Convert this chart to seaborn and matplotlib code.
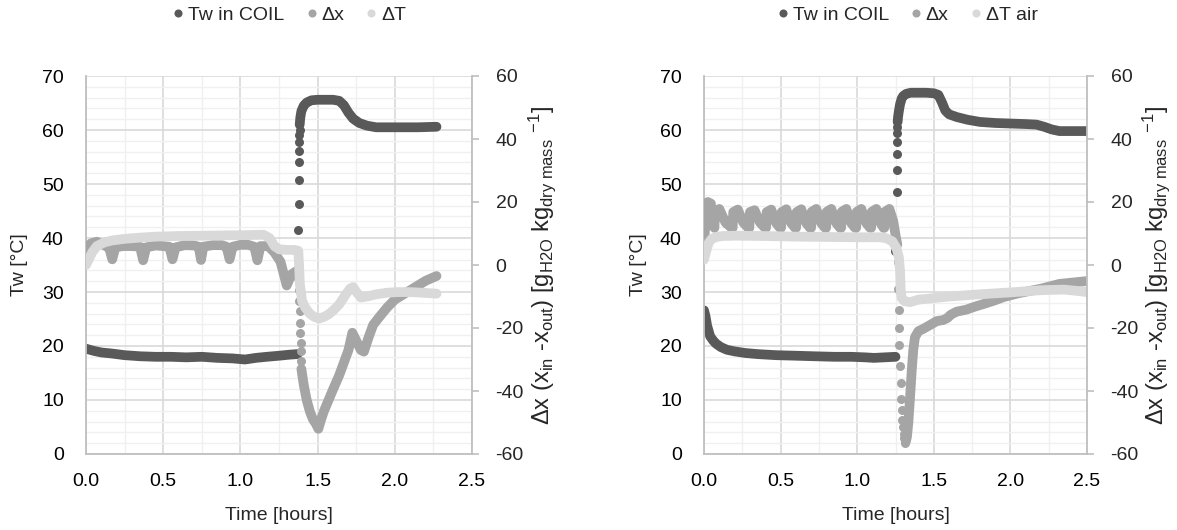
import matplotlib
matplotlib.use("Agg")
import matplotlib.pyplot as plt
import seaborn as sns
from matplotlib.ticker import MultipleLocator
from matplotlib.lines import Line2D

sns.set_theme(style="white")
plt.rcParams["font.family"] = ["Liberation Sans", "DejaVu Sans"]
plt.rcParams["mathtext.fontset"] = "custom"
plt.rcParams["mathtext.rm"] = "Liberation Sans"
plt.rcParams["mathtext.it"] = "Liberation Sans:italic"
plt.rcParams["axes.unicode_minus"] = False

# ---------------- colours ----------------
C_TW = "#595959"
C_DX = "#a5a5a5"
C_DT = "#d9d9d9"

# ================= left panel data =================
# water temperature in coil [°C] (left axis)
tw1_pre_t = [0.00, 0.05, 0.10, 0.17, 0.25, 0.35, 0.45, 0.55, 0.65, 0.75, 0.85,
             0.95, 1.03, 1.10, 1.17, 1.25, 1.32, 1.37]
tw1_pre_v = [19.5, 19.1, 18.8, 18.6, 18.3, 18.1, 18.0, 18.0, 17.9, 18.0, 17.8,
             17.7, 17.5, 17.8, 18.0, 18.2, 18.4, 18.5]
tw1_jump_t = [1.376, 1.377, 1.378, 1.379, 1.380, 1.381, 1.382, 1.383]
tw1_jump_v = [41.5, 46.3, 50.7, 54.0, 56.1, 57.8, 59.0, 60.0]
tw1_post_t = [1.384, 1.388, 1.395, 1.41, 1.43, 1.46, 1.50, 1.55, 1.60, 1.64, 1.67,
              1.70, 1.73, 1.77, 1.82, 1.88, 1.95, 2.05, 2.15, 2.27]
tw1_post_v = [61.0, 62.3, 63.5, 64.5, 65.1, 65.5, 65.6, 65.6, 65.6, 65.4, 64.6,
              63.2, 62.1, 61.3, 60.8, 60.5, 60.5, 60.5, 60.5, 60.6]

# moisture difference [g/kg] (right axis)
dx1_pre_t = [0.00, 0.03, 0.07, 0.12, 0.15, 0.17, 0.19, 0.24, 0.30, 0.35, 0.37, 0.39,
             0.45, 0.50, 0.54, 0.56, 0.58, 0.64, 0.70, 0.73, 0.745, 0.76, 0.82,
             0.88, 0.91, 0.93, 0.95, 1.00, 1.05, 1.09, 1.11, 1.13, 1.18, 1.22,
             1.26, 1.30, 1.33, 1.36, 1.375]
dx1_pre_v = [5.0, 6.8, 7.4, 6.2, 5.5, 1.8, 5.6, 6.0, 6.0, 5.8, 1.5, 5.6,
             6.2, 6.0, 5.8, 1.8, 5.6, 6.3, 6.2, 5.8, 1.6, 5.8, 6.3,
             6.3, 5.8, 1.8, 5.8, 6.4, 6.4, 5.8, 1.5, 6.0, 6.0, 4.0,
             1.0, -6.5, -3.0, -2.0, -4.0]
dx1_jump_t = [1.380, 1.382, 1.384, 1.386, 1.388, 1.390, 1.392, 1.394]
dx1_jump_v = [-8.0, -11.5, -14.6, -18.3, -21.5, -24.7, -27.4, -30.5]
dx1_post_t = [1.395, 1.41, 1.43, 1.45, 1.47, 1.49, 1.505, 1.52, 1.54, 1.57, 1.60,
              1.64, 1.67, 1.70, 1.725, 1.75, 1.78, 1.80, 1.83, 1.86, 1.90, 1.95,
              2.00, 2.05, 2.10, 2.15, 2.20, 2.27]
dx1_post_v = [-33.0, -38.0, -43.0, -46.5, -49.0, -50.5, -52.0, -49.5, -46.5, -43.0,
              -39.5, -35.0, -31.0, -27.0, -21.5, -24.0, -27.0, -27.5, -23.0, -19.0,
              -16.5, -13.5, -11.0, -9.5, -8.0, -6.5, -5.0, -3.5]

# air temperature difference [K] (right axis)
dt1_t = [0.00, 0.02, 0.04, 0.07, 0.12, 0.17, 0.25, 0.35, 0.45, 0.60, 0.75, 0.90,
         1.05, 1.15, 1.19, 1.22, 1.25, 1.30, 1.35, 1.375, 1.38, 1.385, 1.40, 1.42,
         1.45, 1.48, 1.51, 1.54, 1.57, 1.60, 1.64, 1.68, 1.71, 1.73, 1.75, 1.78,
         1.82, 1.88, 1.95, 2.02, 2.10, 2.18, 2.27]
dt1_v = [0.0, 2.0, 4.0, 6.0, 7.2, 7.8, 8.3, 8.7, 9.0, 9.2, 9.3, 9.4,
         9.5, 9.6, 8.5, 6.0, 5.0, 4.8, 4.8, 4.5, 0.0, -6.0, -11.5, -13.5,
         -15.5, -16.5, -17.0, -16.5, -15.7, -14.5, -12.5, -9.5, -7.5, -7.0, -8.5, -10.3,
         -10.0, -9.3, -8.8, -8.6, -8.6, -8.8, -9.1]

# ================= right panel data =================
tw2_pre_t = [0.00, 0.01, 0.02, 0.04, 0.06, 0.08, 0.11, 0.15, 0.20, 0.27, 0.35, 0.47,
             0.60, 0.72, 0.85, 0.96, 1.05, 1.11, 1.18, 1.25]
tw2_pre_v = [26.6, 25.5, 23.8, 21.8, 21.0, 20.4, 19.8, 19.3, 19.0, 18.7, 18.5, 18.3,
             18.2, 18.1, 18.0, 18.0, 17.9, 17.8, 17.9, 18.0]
tw2_jump_t = [1.245, 1.258, 1.259, 1.260, 1.261, 1.262, 1.263]
tw2_jump_v = [37.6, 48.6, 52.6, 55.5, 57.8, 59.4, 60.5]
tw2_post_t = [1.264, 1.267, 1.272, 1.28, 1.29, 1.30, 1.32, 1.35, 1.40, 1.45, 1.50,
              1.53, 1.555, 1.575, 1.60, 1.65, 1.72, 1.80, 1.90, 2.00, 2.10, 2.17,
              2.22, 2.27, 2.32, 2.40, 2.50]
tw2_post_v = [61.5, 62.5, 63.5, 64.8, 65.8, 66.3, 66.7, 66.9, 66.9, 66.9, 66.8,
              66.5, 65.0, 63.6, 62.9, 62.4, 61.9, 61.5, 61.3, 61.2, 61.1, 61.0,
              60.6, 60.1, 59.8, 59.8, 59.8]

dx2_pre_t = [0.000, 0.012, 0.025, 0.045, 0.060, 0.068,
             0.072, 0.100, 0.140, 0.180, 0.187,
             0.191, 0.221, 0.256, 0.289, 0.296,
             0.300, 0.330, 0.365, 0.398, 0.405,
             0.409, 0.439, 0.468, 0.496, 0.503,
             0.507, 0.537, 0.566, 0.594, 0.601,
             0.605, 0.635, 0.664, 0.692, 0.699,
             0.703, 0.733, 0.762, 0.790, 0.797,
             0.801, 0.831, 0.860, 0.888, 0.895,
             0.899, 0.929, 0.958, 0.986, 0.993,
             0.997, 1.027, 1.056, 1.084, 1.091,
             1.095, 1.125, 1.150, 1.172, 1.177,
             1.181, 1.210, 1.235, 1.252, 1.262]
dx2_pre_v = [6.5, 15.0, 20.0, 19.5, 13.0, 11.8,
             16.8, 17.8, 13.5, 11.8, 11.8,
             16.8, 17.6, 13.5, 11.8, 11.8,
             16.8, 17.4, 13.5, 11.8, 11.8,
             16.8, 17.6, 13.5, 11.8, 11.8,
             16.8, 17.7, 13.5, 11.8, 11.8,
             16.8, 17.7, 13.5, 11.8, 11.8,
             16.9, 17.8, 13.5, 11.8, 11.8,
             16.9, 17.8, 13.5, 11.8, 11.8,
             16.9, 17.8, 13.5, 11.8, 11.8,
             16.9, 17.8, 13.5, 11.8, 11.8,
             16.9, 17.8, 13.5, 11.8, 11.8,
             16.9, 17.8, 14.0, 9.0, 6.5]
dx2_jump_t = [1.265, 1.268, 1.272, 1.274, 1.276, 1.279, 1.283, 1.287, 1.291, 1.295,
              1.299, 1.303, 1.308, 1.313]
dx2_jump_v = [0.8, -7.5, -14.4, -20.0, -25.5, -32.1, -37.6, -42.4, -46.1, -49.2,
              -51.4, -53.5, -55.0, -56.6]
dx2_post_t = [1.318, 1.325, 1.334, 1.345, 1.356, 1.366, 1.377, 1.40, 1.43, 1.47, 1.52,
              1.56, 1.59, 1.61, 1.65, 1.71, 1.77, 1.83, 1.90, 1.955, 2.05, 2.15,
              2.20, 2.32, 2.42, 2.50]
dx2_post_v = [-56.0, -54.5, -50.0, -42.0, -33.5, -27.0, -22.9, -21.0, -20.3, -19.2,
              -17.8, -17.5, -16.8, -15.8, -14.8, -14.2, -13.2, -12.3, -11.2, -10.2,
              -9.0, -8.0, -7.5, -6.0, -5.5, -5.1]

dt2_t = [0.000, 0.015, 0.030, 0.050, 0.080, 0.12, 0.20, 0.40, 0.60, 0.80, 1.00,
         1.15, 1.19, 1.23, 1.255, 1.272, 1.280, 1.284, 1.290, 1.310, 1.345, 1.40,
         1.60, 1.80, 2.00, 2.20, 2.35, 2.45, 2.50]
dt2_v = [1.7, 4.5, 7.0, 8.3, 8.9, 9.2, 9.3, 9.2, 9.0, 8.9, 8.8,
         8.8, 8.5, 7.5, 5.5, 2.5, -2.0, -8.0, -10.5, -11.5, -11.8, -11.0,
         -10.0, -9.3, -8.7, -8.0, -7.8, -8.3, -8.6]

legend1 = ["Tw in COIL", "\u0394x", "\u0394T"]
legend2 = ["Tw in COIL", "\u0394x", "\u0394T air"]

x_ticks = [0.0, 0.5, 1.0, 1.5, 2.0, 2.5]

# ---------------- styling ----------------
FS = 14
LW = 7.0
DOT = 42
GRID_MAJ = "#d9d9d9"
GRID_MIN = "#f0f0f0"
SPINE = "#bfbfbf"
TXT = "#000000"
RIGHT_LABEL = (r"$\Delta$x (x$_{\mathrm{in}}$ -x$_{\mathrm{out}}$) "
               r"[g$_{\mathrm{H2O}}$ kg$_{\mathrm{dry\ mass}}$ $^{\mathrm{-1}}$]")

fig = plt.figure(figsize=(11.77, 5.30), dpi=100)
ax_l = fig.add_axes([86 / 1177, 76 / 530, 386 / 1177, 378 / 530])
ax_r = fig.add_axes([704 / 1177, 76 / 530, 383 / 1177, 378 / 530])


def trace(ax, t, v, color):
    sns.lineplot(x=t, y=v, ax=ax, color=color, linewidth=LW, sort=False,
                 estimator=None, solid_capstyle="round", solid_joinstyle="round")


def dots(ax, t, v, color):
    sns.scatterplot(x=t, y=v, ax=ax, color=color, s=DOT, linewidth=0)


def panel(ax, tw, dx, dt_t, dt_v, labels, legend_x):
    ax.set_xlim(0, 2.5)
    ax.set_ylim(0, 70)
    ax.xaxis.set_major_locator(MultipleLocator(0.5))
    ax.xaxis.set_minor_locator(MultipleLocator(0.25))
    ax.yaxis.set_major_locator(MultipleLocator(10))
    ax.yaxis.set_minor_locator(MultipleLocator(2))
    ax.grid(which="minor", color=GRID_MIN, linewidth=1.0)
    ax.grid(which="major", color=GRID_MAJ, linewidth=1.2)
    ax.set_axisbelow(True)
    ax.set_xticks(x_ticks)
    ax.set_xticklabels([f"{v:.1f}" for v in x_ticks])
    ax.tick_params(which="both", length=0, labelsize=FS, colors=TXT)
    ax.tick_params(axis="x", pad=14)
    ax.tick_params(axis="y", pad=16)
    for s in ("top", "right"):
        ax.spines[s].set_visible(False)
    for s in ("left", "bottom"):
        ax.spines[s].set_color(SPINE)
        ax.spines[s].set_linewidth(1.3)

    # primary-axis series
    trace(ax, tw[0], tw[1], C_TW)
    dots(ax, tw[2], tw[3], C_TW)
    trace(ax, tw[4], tw[5], C_TW)

    ax.set_xlabel("Time [hours]", fontsize=FS)
    ax.set_ylabel("Tw [\u00b0C]", fontsize=FS)
    ax.xaxis.set_label_coords(0.5, -0.14)
    ax.yaxis.set_label_coords(-0.15, 0.5)

    # secondary axis
    ax2 = ax.twinx()
    ax2.set_ylim(-60, 60)
    ax2.yaxis.set_major_locator(MultipleLocator(20))
    ax2.tick_params(axis="y", length=5, width=1.2, color=SPINE, labelsize=FS,
                    pad=12, direction="out")
    ax2.grid(False)
    for s in ("top", "left", "bottom"):
        ax2.spines[s].set_visible(False)
    ax2.spines["right"].set_color(SPINE)
    ax2.spines["right"].set_linewidth(1.3)

    trace(ax2, dx[0], dx[1], C_DX)
    dots(ax2, dx[2], dx[3], C_DX)
    trace(ax2, dx[4], dx[5], C_DX)
    trace(ax2, dt_t, dt_v, C_DT)

    ax2.set_ylabel(RIGHT_LABEL, fontsize=17)
    ax2.yaxis.set_label_coords(1.14, 0.5)
    ax2.set_xlim(0, 2.5)

    handles = [Line2D([], [], marker="o", linestyle="", color=c, markersize=5.8,
                      markeredgewidth=0) for c in (C_TW, C_DX, C_DT)]
    fig.legend(handles, labels, loc="center", bbox_to_anchor=(legend_x, 0.972),
               bbox_transform=fig.transFigure, ncol=3, frameon=False,
               fontsize=FS, handletextpad=0.1, columnspacing=1.0,
               handlelength=0.8, borderpad=0)


panel(ax_l,
      (tw1_pre_t, tw1_pre_v, tw1_jump_t, tw1_jump_v, tw1_post_t, tw1_post_v),
      (dx1_pre_t, dx1_pre_v, dx1_jump_t, dx1_jump_v, dx1_post_t, dx1_post_v),
      dt1_t, dt1_v, legend1, 0.245)
panel(ax_r,
      (tw2_pre_t, tw2_pre_v, tw2_jump_t, tw2_jump_v, tw2_post_t, tw2_post_v),
      (dx2_pre_t, dx2_pre_v, dx2_jump_t, dx2_jump_v, dx2_post_t, dx2_post_v),
      dt2_t, dt2_v, legend2, 0.770)

fig.savefig("out.png", dpi=100)
